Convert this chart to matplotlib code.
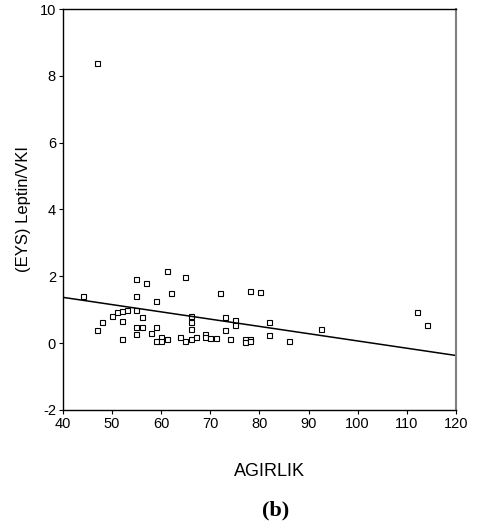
import matplotlib
matplotlib.use("agg")
import matplotlib.pyplot as plt

plt.rcParams["font.family"] = ["Liberation Sans", "DejaVu Sans"]
plt.rcParams["axes.unicode_minus"] = False

agirlik = [44.1, 46.9, 48.0, 50.0, 51.0, 52.0, 52.0, 52.0, 53.0,
           54.9, 54.9, 54.9, 54.9, 54.9, 56.0, 56.0, 56.9, 58.0,
           59.0, 59.0, 59.0, 60.0, 60.0, 61.1, 61.1, 62.1, 63.9,
           64.9, 64.9, 66.0, 66.0, 66.0, 66.0, 67.0, 69.0, 69.0,
           70.0, 71.1, 71.9, 73.0, 73.0, 74.0, 75.0, 75.0, 77.0,
           77.0, 78.1, 78.1, 78.1, 80.1, 81.9, 81.9, 86.1, 92.6,
           112.0, 114.1, 47.0]
leptin_vki = [1.42, 0.39, 0.63, 0.82, 0.92, 0.95, 0.66, 0.11, 0.98,
              1.93, 1.42, 0.98, 0.47, 0.26, 0.47, 0.78, 1.81, 0.31,
              1.26, 0.47, 0.07, 0.17, 0.07, 2.17, 0.11, 1.50, 0.19,
              1.97, 0.07, 0.82, 0.64, 0.43, 0.11, 0.19, 0.27, 0.19,
              0.15, 0.15, 1.50, 0.78, 0.39, 0.11, 0.68, 0.54, 0.13,
              0.03, 0.11, 0.06, 1.57, 1.53, 0.62, 0.23, 0.07, 0.43,
              0.93, 0.54, 8.37]

fit_x = [40, 120]
fit_y = [1.37, -0.37]

x_ticks = [40, 50, 60, 70, 80, 90, 100, 110, 120]
y_ticks = [-2, 0, 2, 4, 6, 8, 10]

fig = plt.figure(figsize=(4.84, 5.31), dpi=100)
ax = fig.add_axes([0.130, 0.228, 0.812, 0.755])

ax.plot(agirlik, leptin_vki, linestyle="none", marker="s", markersize=3.6,
        markerfacecolor="white", markeredgecolor="black", markeredgewidth=0.8)
ax.plot(fit_x, fit_y, color="black", linewidth=1.1)

ax.set_xlim(40, 120)
ax.set_ylim(-2, 10)
ax.set_xticks(x_ticks)
ax.set_yticks(y_ticks)
ax.tick_params(labelsize=10.5, length=3, width=0.8, direction="out", pad=2)
ax.spines["right"].set_color("#808080")
ax.spines["right"].set_linewidth(1.5)
for s in ["left", "bottom", "top"]:
    ax.spines[s].set_linewidth(1.0)

ax.set_ylabel("(EYS) Leptin/VKI", fontsize=12)
ax.yaxis.set_label_coords(-0.08, 0.5)
fig.text(269 / 484, 1 - 472 / 531, "AGIRLIK", ha="center", va="center", fontsize=13)
fig.text(276 / 484, 1 - 510 / 531, "(b)", ha="center", va="center", fontsize=16,
         family="Liberation Serif", fontweight="bold")

fig.savefig("out.png", dpi=100)
